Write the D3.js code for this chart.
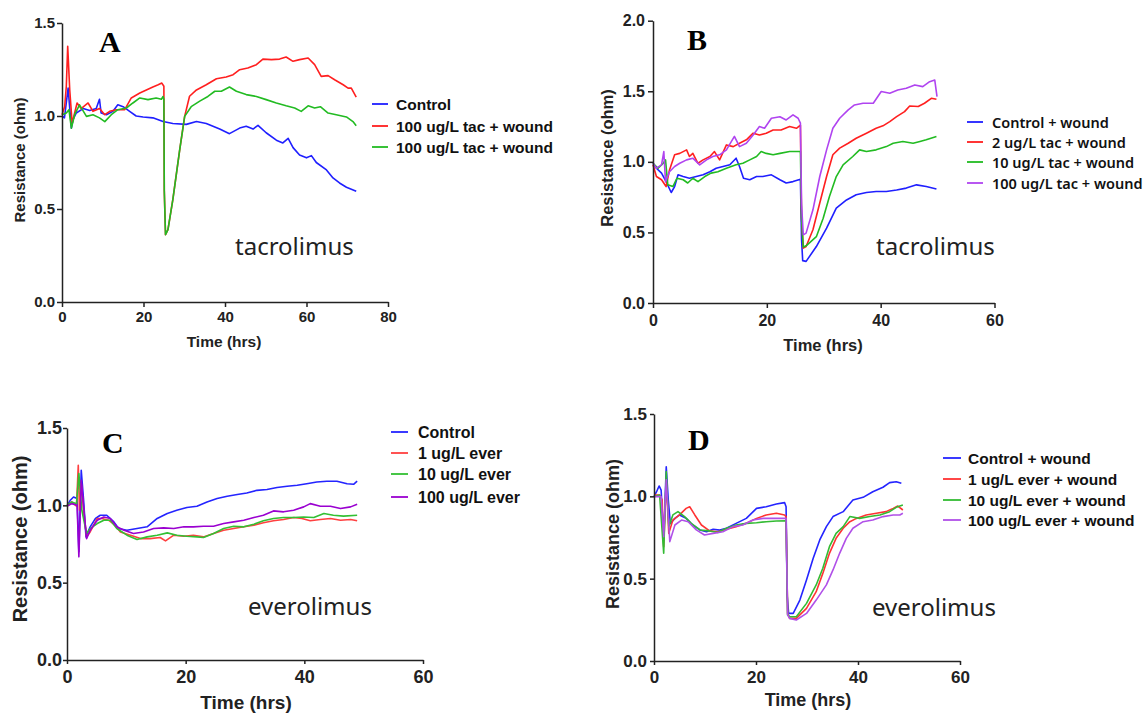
<!DOCTYPE html>
<html>
<head>
<meta charset="utf-8">
<script src="https://cdn.jsdelivr.net/npm/d3@7/dist/d3.min.js"></script>
<style>
  html, body { margin: 0; padding: 0; background: #fff; }
  svg { display: block; }
</style>
</head>
<body>
<svg id="chart" width="1145" height="715"></svg>
<script>
// ---------------- DATA ----------------
// Panel A (tacrolimus, 0-80 hrs)
const A_xTicks = [0, 20, 40, 60, 80];
const A_yTicks = [0.0, 0.5, 1.0, 1.5];
const A_labels = ["Control", "100 ug/L tac + wound", "100 ug/L tac + wound"];
const A_control = [[0,1.0],[0.6,0.99],[1.5,1.15],[2.3,0.935],[2.7,0.98],[3.5,1.016],[5.2,1.04],[6.8,1.03],[8.4,1.04],[9.2,1.09],[9.6,1.016],[10.9,1.007],[12.5,1.025],[13.7,1.06],[15,1.05],[16.6,1.025],[18.2,1.0],[19.9,0.995],[22.3,0.99],[24.8,0.97],[27.2,0.96],[30.5,0.955],[33,0.97],[35.4,0.96],[38.7,0.93],[41.1,0.905],[43.6,0.935],[45.2,0.945],[46.9,0.93],[48.1,0.95],[50.1,0.91],[52.6,0.87],[54.2,0.855],[55.5,0.88],[56.7,0.83],[58.3,0.79],[60,0.775],[61.2,0.787],[62.4,0.75],[64.9,0.71],[66.5,0.667],[68.1,0.64],[69.8,0.617],[72.2,0.595]];
const A_tac1 = [[0,1.007],[0.65,1.05],[1.06,1.16],[1.4,1.375],[1.9,1.14],[2.5,0.96],[3.1,1.016],[3.7,1.07],[4.7,1.04],[6.4,1.07],[7.6,1.025],[9.2,1.04],[10.5,1.007],[11.7,1.025],[13.3,1.034],[15.4,1.034],[17,1.097],[19.1,1.124],[20.7,1.14],[22.3,1.156],[23.6,1.168],[24.5,1.177],[25.0,1.16],[25.1,0.6],[25.4,0.362],[26,0.389],[27.2,0.55],[28.9,0.82],[30.1,0.998],[31.3,1.106],[33,1.14],[35.4,1.168],[37.9,1.2],[40.3,1.21],[42,1.222],[43.6,1.249],[45.6,1.258],[47.7,1.276],[49.3,1.306],[51.4,1.303],[53.4,1.306],[55,1.317],[56.7,1.294],[58.3,1.303],[60.4,1.312],[62,1.276],[63.6,1.213],[65.3,1.217],[66.9,1.195],[69,1.168],[70.2,1.15],[71,1.15],[72.2,1.102]];
const A_tac2 = [[0,1.007],[1.06,1.016],[1.7,1.034],[2.3,0.935],[3.1,1.007],[4.3,1.06],[6,0.998],[7.6,1.007],[9.2,0.99],[10.5,0.97],[12.1,1.007],[13.7,1.034],[15.8,1.043],[17.4,1.07],[19.1,1.097],[21.1,1.088],[23.1,1.097],[24.4,1.09],[24.8,1.105],[25.0,1.09],[25.1,0.6],[25.4,0.362],[26,0.389],[27.2,0.55],[28.9,0.82],[30.1,0.998],[31.7,1.05],[33.8,1.08],[35.8,1.105],[37.5,1.133],[39.1,1.133],[41.1,1.156],[42.8,1.133],[45.2,1.115],[47.7,1.105],[50.1,1.088],[52.6,1.07],[55,1.055],[57.1,1.043],[58.7,1.025],[60.4,1.055],[62,1.043],[63.4,1.05],[65.3,1.016],[67.3,1.007],[69.8,0.995],[71.4,0.97],[72.2,0.948]];

// Panel B (tacrolimus, 0-60 hrs)
const B_xTicks = [0, 20, 40, 60];
const B_yTicks = [0.0, 0.5, 1.0, 1.5, 2.0];
const B_labels = ["Control + wound", "2 ug/L tac + wound", "10 ug/L tac + wound", "100 ug/L tac + wound"];
const B_control = [[0,0.99],[0.6,0.955],[1.5,0.92],[2.3,0.86],[3.2,0.783],[3.8,0.825],[4.4,0.908],[5.3,0.896],[6.4,0.884],[7.6,0.896],[8.8,0.908],[10,0.93],[11.1,0.955],[12.3,0.967],[13.5,0.979],[14.6,1.026],[15.2,0.967],[15.9,0.884],[17,0.873],[18.2,0.896],[19.3,0.896],[20.8,0.908],[22.3,0.873],[23.4,0.85],[24.6,0.86],[25.9,0.877],[26.1,0.45],[26.3,0.3],[26.9,0.295],[28.7,0.4],[30.5,0.53],[32.2,0.672],[34,0.73],[35.7,0.767],[37.5,0.783],[39.2,0.79],[41,0.79],[42.8,0.8],[44.5,0.814],[46.3,0.837],[48,0.825],[49.8,0.807]];
const B_tac2 = [[0,0.979],[0.6,0.896],[1.5,0.873],[2.3,0.825],[2.9,0.943],[3.8,1.05],[4.7,1.06],[5.9,1.085],[6.4,1.038],[7,1.06],[7.9,0.99],[8.8,1.014],[10,1.038],[10.8,1.073],[11.7,1.014],[12.9,1.12],[14.1,1.108],[15.2,1.132],[16.4,1.156],[17.6,1.203],[18.7,1.19],[19.9,1.203],[21.1,1.226],[22.5,1.226],[24,1.25],[25.2,1.238],[25.9,1.26],[26.1,0.6],[26.4,0.389],[26.9,0.4],[28.1,0.519],[29.3,0.708],[30.5,0.896],[31.6,1.05],[32.8,1.097],[34.3,1.132],[35.7,1.167],[37.5,1.203],[39.2,1.238],[40.4,1.255],[41.6,1.285],[42.8,1.32],[44.2,1.356],[45.1,1.396],[46.6,1.392],[47.7,1.415],[48.9,1.45],[49.8,1.443]];
const B_tac10 = [[0,0.99],[0.9,0.955],[1.8,0.99],[2.2,1.014],[2.6,0.837],[3.5,0.825],[4.2,0.884],[5.3,0.873],[6.1,0.85],[7,0.884],[7.9,0.86],[9.1,0.896],[10.2,0.92],[11.4,0.93],[12.9,0.955],[14.6,0.979],[15.8,0.99],[17,1.014],[18.2,1.038],[19,1.073],[19.9,1.06],[21.1,1.05],[22.3,1.06],[24,1.073],[25.2,1.073],[25.9,1.073],[26.1,0.6],[26.4,0.396],[26.9,0.405],[28.7,0.47],[29.9,0.6],[31,0.755],[32.2,0.896],[33.4,0.979],[35.1,1.038],[36.3,1.085],[37.5,1.073],[39.2,1.085],[41,1.108],[42.2,1.132],[43.9,1.144],[45.7,1.132],[46.9,1.144],[48,1.156],[49.8,1.18]];
const B_tac100 = [[0,0.99],[0.6,0.955],[1.5,0.979],[1.9,1.073],[2.2,0.86],[2.9,0.93],[3.8,0.967],[4.7,0.99],[5.9,1.014],[7,1.026],[8.2,0.979],[9.4,1.014],[10.5,1.038],[11.7,1.05],[12.9,1.085],[14.3,1.18],[15.2,1.108],[16.4,1.132],[17.6,1.19],[18.7,1.25],[19.6,1.238],[20.8,1.309],[22.3,1.32],[23.4,1.297],[24.6,1.333],[25.5,1.309],[25.9,1.274],[26.1,0.7],[26.4,0.483],[26.9,0.495],[28.1,0.66],[29.3,0.896],[30.5,1.085],[31.6,1.238],[32.8,1.309],[34.3,1.368],[35.4,1.403],[36.9,1.415],[38.7,1.415],[40.1,1.498],[41.6,1.486],[43,1.509],[44.5,1.521],[46,1.545],[47.4,1.533],[48.6,1.568],[49.5,1.58],[49.9,1.462]];

// Panel C (everolimus, no wound)
const C_xTicks = [0, 20, 40, 60];
const C_yTicks = [0.0, 0.5, 1.0, 1.5];
const C_labels = ["Control", "1 ug/L ever", "10 ug/L ever", "100 ug/L ever"];
const C_control = [[0,0.994],[0.56,1.033],[1.1,1.054],[1.7,1.044],[2.0,0.7],[2.4,1.227],[2.8,1.033],[3.2,0.796],[3.9,0.861],[4.8,0.915],[5.6,0.936],[6.7,0.936],[7.9,0.893],[8.7,0.85],[10.1,0.839],[11.8,0.85],[13.5,0.861],[15.2,0.915],[16.9,0.947],[18.5,0.968],[20.2,0.986],[21.9,0.994],[23.6,1.022],[25.3,1.044],[27,1.059],[28.7,1.07],[30.3,1.08],[32,1.097],[33.7,1.102],[35.4,1.115],[37.1,1.123],[38.8,1.13],[40.4,1.14],[42.1,1.151],[43.8,1.156],[45.5,1.156],[47.2,1.14],[48.3,1.136],[48.9,1.156]];
const C_ever1 = [[0,0.994],[0.8,1.022],[1.6,0.994],[1.9,1.259],[2.1,0.968],[2.4,1.14],[2.8,0.968],[3.3,0.796],[3.9,0.828],[5.1,0.915],[5.9,0.915],[7,0.904],[8.1,0.872],[9,0.828],[10.7,0.807],[12.4,0.785],[14,0.785],[15.7,0.792],[16.6,0.77],[18,0.807],[19.7,0.8],[21.3,0.807],[23,0.796],[24.7,0.818],[26.4,0.839],[28.1,0.85],[29.8,0.861],[31.5,0.872],[33.1,0.887],[34.8,0.9],[36.5,0.908],[38.2,0.921],[39.6,0.915],[41,0.9],[42.7,0.908],[44.4,0.915],[46.1,0.904],[47.8,0.908],[48.9,0.9]];
const C_ever10 = [[0,1.0],[0.8,1.022],[1.6,1.011],[2.0,1.205],[2.5,0.968],[3.3,0.818],[3.9,0.85],[5.1,0.882],[6.2,0.904],[7.3,0.904],[8.4,0.85],[10.1,0.807],[11.8,0.779],[13.5,0.796],[15.2,0.807],[16.9,0.822],[18.5,0.807],[20.2,0.8],[21.9,0.796],[23,0.792],[24.7,0.818],[26.4,0.85],[28.1,0.865],[29.8,0.861],[31.5,0.878],[33.1,0.9],[34.8,0.915],[36.5,0.921],[38.2,0.921],[39.9,0.925],[41.6,0.921],[43.3,0.947],[44.9,0.936],[46.6,0.93],[48.9,0.936]];
const C_ever100 = [[0,0.994],[0.8,1.011],[1.7,1.0],[2.0,0.667],[2.4,1.162],[2.8,0.99],[3.3,0.785],[3.9,0.839],[5.1,0.904],[6.2,0.925],[7.3,0.915],[8.4,0.861],[9.6,0.839],[11.2,0.818],[12.9,0.828],[14.6,0.85],[16.3,0.854],[18,0.85],[19.7,0.861],[21.3,0.861],[23,0.865],[24.7,0.865],[26.4,0.882],[28.1,0.893],[29.8,0.904],[31.5,0.921],[33.1,0.936],[34.8,0.964],[36.5,0.958],[38.2,0.968],[39.9,0.99],[41,1.011],[42.7,0.994],[44.4,0.994],[46.1,0.979],[47.8,0.99],[48.9,1.007]];

// Panel D (everolimus + wound)
const D_xTicks = [0, 20, 40, 60];
const D_yTicks = [0.0, 0.5, 1.0, 1.5];
const D_labels = ["Control + wound", "1 ug/L ever + wound", "10 ug/L ever + wound", "100 ug/L ever + wound"];
const D_control = [[0,0.998],[0.5,1.028],[1,1.063],[1.4,1.038],[1.9,0.735],[2.4,1.18],[2.8,0.978],[3.2,0.836],[4.1,0.866],[5,0.887],[6.3,0.866],[7.6,0.826],[9,0.796],[10.3,0.785],[11.6,0.8],[12.9,0.795],[14.2,0.806],[16.1,0.836],[18.1,0.866],[20.1,0.927],[22,0.937],[24,0.953],[25.6,0.962],[25.9,0.937],[26.1,0.4],[26.4,0.289],[27.3,0.289],[28.6,0.37],[29.9,0.492],[31.2,0.623],[32.5,0.735],[33.8,0.816],[35.1,0.877],[37.1,0.907],[39,0.978],[41,0.994],[42.9,1.028],[44.9,1.055],[46.2,1.083],[47.5,1.089],[48.5,1.079]];
const D_ever1 = [[0,1.008],[1.1,1.008],[1.6,0.978],[1.9,0.694],[2.4,1.1],[2.9,0.775],[3.7,0.856],[5,0.887],[6.3,0.927],[7,0.937],[8,0.887],[9.3,0.826],[10.9,0.79],[12.5,0.785],[14.2,0.8],[16.1,0.816],[18.1,0.836],[20.1,0.866],[22,0.887],[24,0.897],[25.6,0.887],[25.9,0.877],[26.2,0.289],[26.6,0.259],[27.9,0.259],[29.9,0.32],[31.8,0.421],[33.1,0.532],[34.4,0.654],[35.7,0.745],[37.1,0.806],[38.4,0.846],[39.7,0.866],[41.6,0.887],[43.6,0.897],[45.5,0.907],[46.9,0.927],[47.8,0.941],[48.8,0.917]];
const D_ever10 = [[0,0.998],[1.1,1.008],[1.9,0.654],[2.4,1.15],[2.9,0.816],[3.7,0.887],[4.7,0.907],[6,0.877],[7.3,0.836],[9,0.796],[10.9,0.79],[12.5,0.78],[14.2,0.806],[16.1,0.826],[18.1,0.836],[20.1,0.84],[22,0.846],[24,0.85],[25.9,0.852],[26.2,0.28],[26.6,0.269],[27.9,0.269],[29.9,0.35],[31.8,0.462],[33.1,0.563],[34.4,0.694],[35.7,0.775],[37.1,0.816],[38.4,0.877],[40.3,0.866],[42.3,0.877],[44.3,0.887],[46.2,0.907],[47.5,0.933],[48.8,0.947]];
const D_ever100 = [[0,0.998],[1.4,0.998],[1.9,0.755],[2.4,1.1],[3.1,0.725],[4.1,0.826],[5.4,0.856],[6.7,0.846],[8.3,0.796],[9.9,0.765],[11.6,0.775],[13.5,0.785],[15.5,0.816],[17.4,0.826],[19.4,0.856],[21.4,0.866],[24,0.866],[25.9,0.866],[26.2,0.28],[26.6,0.259],[27.9,0.249],[29.9,0.289],[31.8,0.37],[33.8,0.462],[35.1,0.553],[36.4,0.654],[37.7,0.745],[39,0.806],[41,0.846],[42.9,0.856],[44.9,0.877],[46.9,0.887],[48.2,0.887],[48.8,0.897]];

// ---------------- DRAWING ----------------
const svg = d3.select("#chart");
const axisColor = "#222";

function drawPanel(p) {
  const g = svg.append("g");
  const x = d3.scaleLinear().domain([0, p.xMax]).range([p.x0, p.x1]);
  const y = d3.scaleLinear().domain([0, p.yMax]).range([p.y0, p.y1]);

  // series
  const line = d3.line().x(d => x(d[0])).y(d => y(d[1]));
  p.series.forEach((s, i) => {
    g.append("path").datum(s).attr("d", line)
      .attr("fill", "none").attr("stroke", p.colors[i])
      .attr("stroke-width", 1.6).attr("stroke-linejoin", "round");
  });

  // axes
  const xa = g.append("g").attr("transform", `translate(0,${p.y0})`)
    .call(d3.axisBottom(x).tickValues(p.xTicks).tickFormat(d3.format("d"))
      .tickSize(p.tick).tickPadding(p.xPad).tickSizeOuter(0));
  const ya = g.append("g").attr("transform", `translate(${p.x0},0)`)
    .call(d3.axisLeft(y).tickValues(p.yTicks).tickFormat(d3.format(".1f"))
      .tickSize(p.tick).tickPadding(p.yPad).tickSizeOuter(0));
  [xa, ya].forEach(a => {
    a.selectAll("path, line").attr("stroke", axisColor).attr("stroke-width", 1.5);
    a.selectAll("text").attr("fill", "#222")
      .style("font-family", "'Liberation Sans', Arial, sans-serif")
      .style("font-weight", "bold").style("font-size", p.tickFont + "px");
  });

  // axis titles
  g.append("text").attr("x", p.xTitle[0]).attr("y", p.xTitle[1])
    .attr("text-anchor", "middle").attr("fill", "#222")
    .style("font-family", "'Liberation Sans', Arial, sans-serif")
    .style("font-weight", "bold").style("font-size", p.titleFont + "px")
    .text("Time (hrs)");
  g.append("text")
    .attr("transform", `translate(${p.yTitle[0]},${p.yTitle[1]}) rotate(-90)`)
    .attr("text-anchor", "middle").attr("dominant-baseline", "central").attr("fill", "#222")
    .style("font-family", "'Liberation Sans', Arial, sans-serif")
    .style("font-weight", "bold").style("font-size", p.yTitleFont + "px")
    .text("Resistance (ohm)");

  // panel letter
  g.append("text").attr("x", p.letterPos[0]).attr("y", p.letterPos[1])
    .attr("fill", "#000")
    .style("font-family", "'Liberation Serif', 'Times New Roman', serif")
    .style("font-weight", "bold").style("font-size", "30px")
    .text(p.letter);

  // drug name
  g.append("text").attr("x", p.drugPos[0]).attr("y", p.drugPos[1])
    .attr("fill", "#222")
    .style("font-family", "'Noto Sans', 'Open Sans', sans-serif")
    .style("font-size", "24px")
    .text(p.drug);

  // legend
  const L = p.legend;
  p.labels.forEach((lab, i) => {
    const yy = L.ys[i];
    g.append("line").attr("x1", L.lx).attr("x2", L.lx + L.lw)
      .attr("y1", yy).attr("y2", yy)
      .attr("stroke", p.colors[i]).attr("stroke-width", 1.8);
    g.append("text").attr("x", L.tx).attr("y", yy)
      .attr("dominant-baseline", "central").attr("fill", "#111")
      .style("font-family", L.family).style("font-weight", L.weight)
      .style("font-size", L.font + "px")
      .text(lab);
  });
}

drawPanel({
  x0: 62, x1: 388, xMax: 80, y0: 302, y1: 23, yMax: 1.5,
  xTicks: A_xTicks, yTicks: A_yTicks, tick: 5, xPad: 4, yPad: 2,
  tickFont: 15, titleFont: 15.5, yTitleFont: 15,
  xTitle: [224, 347], yTitle: [19, 160],
  letter: "A", letterPos: [99, 52],
  drug: "tacrolimus", drugPos: [235, 255],
  series: [A_control, A_tac1, A_tac2],
  colors: ["#1f1fff", "#ff1f1f", "#22bb22"],
  labels: A_labels,
  legend: { lx: 372, lw: 16, tx: 396, ys: [104, 126, 147], font: 15.5,
            family: "'Liberation Sans', Arial, sans-serif", weight: "bold" }
});

drawPanel({
  x0: 653, x1: 994.5, xMax: 60, y0: 303, y1: 20.7, yMax: 2.0,
  xTicks: B_xTicks, yTicks: B_yTicks, tick: 5, xPad: 7, yPad: 3,
  tickFont: 16, titleFont: 16.5, yTitleFont: 16.5,
  xTitle: [823, 351], yTitle: [607, 158],
  letter: "B", letterPos: [687, 50],
  drug: "tacrolimus", drugPos: [876, 255],
  series: [B_control, B_tac2, B_tac10, B_tac100],
  colors: ["#1f1fff", "#ff1f1f", "#22bb22", "#b044f0"],
  labels: B_labels,
  legend: { lx: 967, lw: 16, tx: 992, ys: [122, 142, 162, 183], font: 14.5,
            family: "'Noto Sans', sans-serif", weight: "600" }
});

drawPanel({
  x0: 67, x1: 423, xMax: 60, y0: 660, y1: 428, yMax: 1.5,
  xTicks: C_xTicks, yTicks: C_yTicks, tick: 4, xPad: 6, yPad: 1,
  tickFont: 18, titleFont: 19, yTitleFont: 20,
  xTitle: [246, 709], yTitle: [20, 539],
  letter: "C", letterPos: [102, 453],
  drug: "everolimus", drugPos: [248, 615],
  series: [C_control, C_ever1, C_ever10, C_ever100],
  colors: ["#2424ff", "#ff4040", "#33c033", "#9a00d0"],
  labels: C_labels,
  legend: { lx: 391, lw: 17, tx: 418, ys: [432, 453, 474, 497], font: 16,
            family: "'Liberation Sans', Arial, sans-serif", weight: "bold" }
});

drawPanel({
  x0: 654, x1: 960, xMax: 60, y0: 661, y1: 414, yMax: 1.5,
  xTicks: D_xTicks, yTicks: D_yTicks, tick: 4, xPad: 6, yPad: 3,
  tickFont: 17, titleFont: 18, yTitleFont: 18,
  xTitle: [808, 706], yTitle: [613, 534],
  letter: "D", letterPos: [688, 450],
  drug: "everolimus", drugPos: [872, 616],
  series: [D_control, D_ever1, D_ever10, D_ever100],
  colors: ["#2424ff", "#ff3333", "#33bb33", "#b050e8"],
  labels: D_labels,
  legend: { lx: 943, lw: 18, tx: 968, ys: [458, 479, 500, 520], font: 15.5,
            family: "'Liberation Sans', Arial, sans-serif", weight: "bold" }
});
</script>
</body>
</html>
